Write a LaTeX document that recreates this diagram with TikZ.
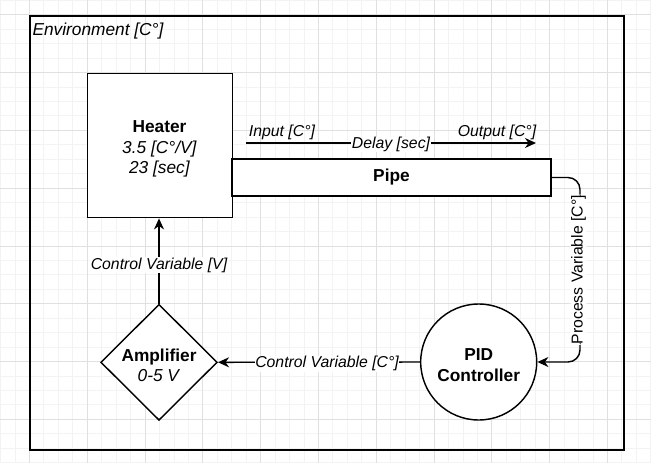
\documentclass[tikz,border=0pt]{standalone}
\usepackage{fontspec}
\setmainfont{Liberation Sans}
\usetikzlibrary{arrows.meta,shapes.geometric}
\definecolor{gridminor}{HTML}{F3F3F3}
\definecolor{gridmajor}{HTML}{E0E0E0}
\begin{document}
\begin{tikzpicture}[x=1pt,y=-1pt,
  vfont/.style={font=\fontsize{17.3}{20.5}\selectfont},
  efont/.style={font=\fontsize{15.8}{18.5}\selectfont\itshape},
  box/.style={draw=black, fill=white, line width=1.44pt, inner sep=0pt},
  conn/.style={draw=black, line width=1.44pt, -{Stealth[length=11pt,width=10pt,inset=3.5pt]}},
  elabel/.style={efont, fill=white, inner sep=0.5pt, text=black, yshift=-1.5pt},
  etext/.style={efont, inner sep=0pt, text=black},
  vtext/.style={vfont, align=center, inner sep=0pt, text=black}]
\useasboundingbox (0,0) rectangle (651,463);
\fill[white] (0,0) rectangle (651,463);
% grid
\foreach \i in {0,...,45} {\draw[gridminor, line width=1pt] ({0.6+14.45*\i},0) -- ++(0,463);}
\foreach \j in {0,...,32} {\draw[gridminor, line width=1pt] (0,{0.35+14.45*\j}) -- ++(651,0);}
\foreach \k in {0,...,10} {\draw[gridmajor, line width=1pt] ({29.5+57.8*\k},0) -- ++(0,463);}
\foreach \k in {0,...,7} {\draw[gridmajor, line width=1pt] (0,{14.8+57.8*\k}) -- ++(651,0);}
% environment
\node[draw=black, line width=1.6pt, minimum width=594pt, minimum height=434pt, anchor=north west, inner sep=0pt] (env) at (29,15) {};
\node[font=\fontsize{17.3}{20.5}\selectfont\itshape, anchor=west, inner sep=0pt] (envlabel) at (32.3,31.5) {Environment [C°]};
% heater
\node[box, minimum width=145pt, minimum height=144pt, anchor=north west] (heater) at (87,73) {};
\node[vtext] (heatertext) at (159.5,149) {\textbf{Heater}\\\textit{3.5 [C°/V]}\\\textit{23 [sec]}};
% pipe
\node[box, vfont, minimum width=319pt, minimum height=37pt] (pipe) at (391.5,177.5) {\textbf{Pipe}};
% pid
\node[box, circle, minimum size=116pt] (pid) at (478.7,362) {};
\node[vtext] (pidtext) at (478.7,365) {\textbf{PID}\\\textbf{Controller}};
% amplifier
\node[box, diamond, minimum width=116.6pt, minimum height=116pt] (amp) at (159,362.3) {};
\node[vtext] (amptext) at (159,365.5) {\textbf{Amplifier}\\\textit{0-5 V}};
% delay arrow
\coordinate (din) at (246,143);
\coordinate (dout) at (536,143);
\draw[conn] (din) -- node[elabel, pos=0.5] (delay) {Delay [sec]} (dout);
\node[etext] (inlabel) at (282,132.5) {Input [C°]};
\node[etext] (outlabel) at (497,132.5) {Output [C°]};
% connectors
\draw[conn, rounded corners=12pt] (pipe.east) -- (580,177.5) -- node[elabel, font=\fontsize{15.8}{18.5}\selectfont\upshape, midway, rotate=90, yshift=1.5pt, xshift=1.5pt] (pv) {Process Variable [C°]} (580,362) -- (pid.east);
\draw[conn] (pid.west) -- node[elabel, pos=0.46] (cvc) {Control Variable [C°]} (amp.east);
\draw[conn] (amp.north) -- node[elabel, pos=0.47] (cvv) {Control Variable [V]} (amp.north |- heater.south);
\end{tikzpicture}
\end{document}
